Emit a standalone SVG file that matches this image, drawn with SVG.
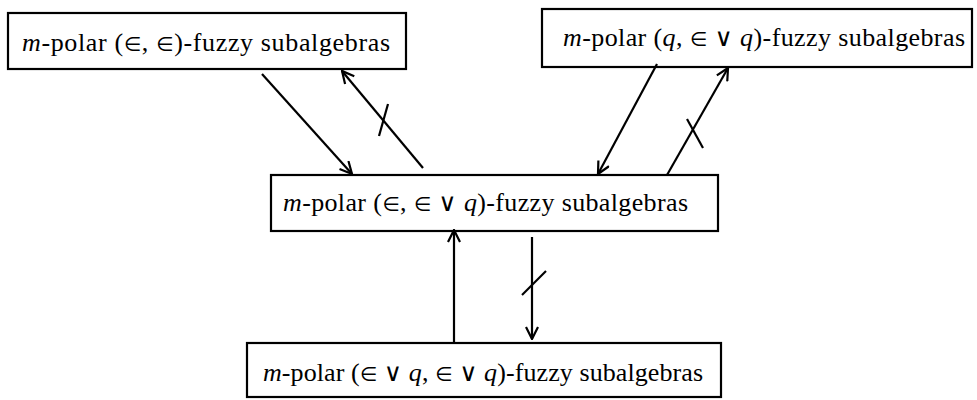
<svg xmlns="http://www.w3.org/2000/svg" width="977" height="400" viewBox="0 0 977 400">
<defs>
<style>
.box{fill:#fff;stroke:#000;stroke-width:2.2}
text{font-family:'Liberation Serif','Times New Roman',serif;font-size:26px;fill:#000}
.i{font-style:italic}
.s{font-family:'DejaVu Sans',sans-serif;font-size:20px}
.v{font-family:'DejaVu Sans',sans-serif;font-size:25px}
.c line{stroke:#000;stroke-width:2.2}
</style>
<marker id="ah" viewBox="0 0 14 14" refX="13" refY="7" markerWidth="14" markerHeight="14" markerUnits="userSpaceOnUse" orient="auto">
<polyline points="1,1 13,7 1,13" fill="none" stroke="#000" stroke-width="2.2"/>
</marker>
</defs>
<rect width="977" height="400" fill="#fff"/>
<g id="n1">
<rect class="box" x="8" y="13" width="398" height="56"/>
<text x="22" y="51" textLength="368" lengthAdjust="spacing"><tspan class="i">m</tspan>-polar (<tspan class="s">∈</tspan>, <tspan class="s">∈</tspan>)-fuzzy subalgebras</text>
</g>
<g id="n2">
<rect class="box" x="542" y="9" width="430" height="58"/>
<text x="563" y="46" textLength="402" lengthAdjust="spacing"><tspan class="i">m</tspan>-polar (<tspan class="i">q</tspan>, <tspan class="s">∈</tspan> <tspan class="v">∨</tspan> <tspan class="i">q</tspan>)-fuzzy subalgebras</text>
</g>
<g id="n3">
<rect class="box" x="271" y="175" width="447" height="56"/>
<text x="283" y="211" textLength="405" lengthAdjust="spacing"><tspan class="i">m</tspan>-polar (<tspan class="s">∈</tspan>, <tspan class="s">∈</tspan> <tspan class="v">∨</tspan> <tspan class="i">q</tspan>)-fuzzy subalgebras</text>
</g>
<g id="n4">
<rect class="box" x="247" y="343" width="474" height="54"/>
<text x="263" y="381" textLength="440" lengthAdjust="spacing"><tspan class="i">m</tspan>-polar (<tspan class="s">∈</tspan> <tspan class="v">∨</tspan> <tspan class="i">q</tspan>, <tspan class="s">∈</tspan> <tspan class="v">∨</tspan> <tspan class="i">q</tspan>)-fuzzy subalgebras</text>
</g>
<g id="connectors" class="c">
<line x1="262" y1="74" x2="352" y2="174" marker-end="url(#ah)"/>
<line x1="423" y1="168" x2="342" y2="71" marker-end="url(#ah)"/>
<line x1="379" y1="136" x2="388" y2="104"/>
<line x1="657" y1="64" x2="598" y2="174" marker-end="url(#ah)"/>
<line x1="667" y1="175" x2="728" y2="68" marker-end="url(#ah)"/>
<line x1="687" y1="119" x2="703" y2="148"/>
<line x1="454" y1="343" x2="454" y2="230" marker-end="url(#ah)"/>
<line x1="532" y1="237" x2="532" y2="339" marker-end="url(#ah)"/>
<line x1="522" y1="295" x2="546" y2="271"/>
</g>
</svg>
